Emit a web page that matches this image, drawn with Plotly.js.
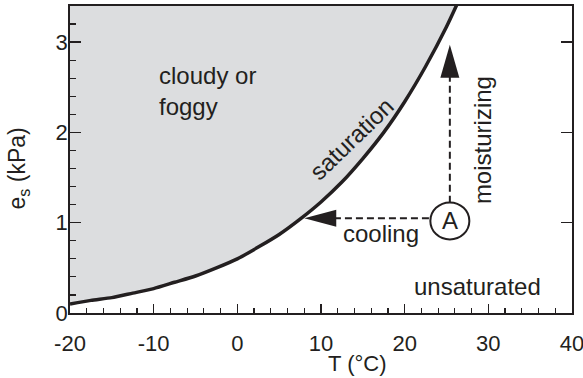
<!DOCTYPE html>
<html>
<head>
<meta charset="utf-8">
<script src="https://cdn.plot.ly/plotly-3.0.1.min.js"></script>
<style>html,body{margin:0;padding:0;background:#fff;}#chart{width:583px;height:378px;}</style>
</head>
<body>
<div id="chart"></div>
<script>
// Saturation curve
const temperature = [-20, -17.5, -15, -12.5, -10, -7.5, -5, -2.5, 0, 2.5, 5, 7.5, 10, 12.5, 15, 17.5, 20, 22.5, 25, 27];
const satPressure = [0.10, 0.14, 0.17, 0.22, 0.27, 0.34, 0.41, 0.50, 0.60, 0.73, 0.87, 1.04, 1.23, 1.45, 1.71, 2.00, 2.34, 2.73, 3.17, 3.57];
const fillTop = 3.7;

// Point A and the two process arrows
const pointA = {T: 25.4, e: 1.02};
const coolingT = [22.9, 11.0];
const coolingE = [1.05, 1.05];
const coolingTip = {T: 8.0, e: 1.05};
const moistT = [25.4, 25.4];
const moistE = [1.22, 2.7];
const moistTip = {T: 25.4, e: 2.97};

// Tick labels
const xTicks = [-20, -10, 0, 10, 20, 30, 40];
const yTicks = [0, 1, 2, 3];

const ink = '#231f20';
const font = {family: 'Liberation Sans, Arial, Helvetica, sans-serif', color: ink};
const f = (s) => Object.assign({size: s}, font);

const fillX = temperature.concat([temperature[temperature.length - 1], temperature[0]]);
const fillY = satPressure.concat([fillTop, fillTop]);

const traces = [
  {x: fillX, y: fillY, mode: 'lines', fill: 'toself', fillcolor: '#dcdddf', line: {width: 0, color: 'rgba(0,0,0,0)'}, hoverinfo: 'skip', showlegend: false},
  {x: temperature, y: satPressure, mode: 'lines', line: {color: ink, width: 3.5, shape: 'spline', smoothing: 0.6}, showlegend: false},
  {x: coolingT, y: coolingE, mode: 'lines', line: {color: ink, width: 2, dash: '7px,4px'}, showlegend: false, yaxis: 'y2'},
  {x: moistT, y: moistE, mode: 'lines', line: {color: ink, width: 2, dash: '7px,4px'}, showlegend: false}
];

const layout = {
  width: 583, height: 378,
  margin: {l: 70, r: 10.5, t: 5.7, b: 64.7},
  paper_bgcolor: '#fff', plot_bgcolor: '#fff',
  font: f(22),
  showlegend: false,
  xaxis: {
    range: [-20, 40], tickvals: xTicks, ticktext: xTicks.map(String),
    ticks: 'inside', ticklen: 9, tickwidth: 1.5, tickcolor: ink,
    minor: {dtick: 2, ticks: 'inside', ticklen: 5, tickwidth: 1.2, tickcolor: ink},
    showline: true, linecolor: ink, linewidth: 1.8, mirror: true,
    showgrid: false, zeroline: false, tickfont: f(22),
    ticklabelstandoff: 10, ticklabeloverflow: 'allow'
  },
  yaxis: {
    range: [0, 3.4], tickvals: yTicks, ticktext: yTicks.map(String),
    ticks: 'inside', ticklen: 11, tickwidth: 1.5, tickcolor: ink,
    minor: {dtick: 0.2, ticks: 'inside', ticklen: 6, tickwidth: 1.2, tickcolor: ink},
    showline: true, linecolor: ink, linewidth: 1.8, mirror: true,
    showgrid: false, zeroline: false, tickfont: f(22),
    ticklabelstandoff: -4, ticklabeloverflow: 'allow'
  },
  yaxis2: {
    range: [0, 3.4], overlaying: 'y', side: 'right', tickvals: [1, 2, 3],
    ticks: 'inside', ticklen: 11, tickwidth: 1.5, tickcolor: ink,
    showticklabels: false, showline: false, showgrid: false, zeroline: false
  },
  shapes: [
    {type: 'path', xref: 'x', yref: 'y', xsizemode: 'pixel', ysizemode: 'pixel',
     xanchor: coolingTip.T, yanchor: coolingTip.e,
     path: 'M0,0 L32,8.5 L32,-8.5 Z', fillcolor: ink, line: {width: 0}},
    {type: 'path', xref: 'x', yref: 'y', xsizemode: 'pixel', ysizemode: 'pixel',
     xanchor: moistTip.T, yanchor: moistTip.e,
     path: 'M0,0 L-9.5,-33 L9.5,-33 Z', fillcolor: ink, line: {width: 0}},
    {type: 'circle', xref: 'x', yref: 'y', xsizemode: 'pixel', ysizemode: 'pixel',
     xanchor: pointA.T, yanchor: pointA.e, x0: -19.5, x1: 19.5, y0: -18.5, y1: 18.5,
     fillcolor: '#fff', line: {color: ink, width: 2}}
  ],
  annotations: [
    {x: -9.6, y: 2.46, xref: 'x', yref: 'y', text: 'cloudy or<br>foggy', showarrow: false, xanchor: 'left', yanchor: 'middle', align: 'left', font: f(24)},
    {x: 13.7, y: 1.93, xref: 'x', yref: 'y', text: 'saturation', showarrow: false, textangle: -44, font: f(24)},
    {x: 29.3, y: 1.92, xref: 'x', yref: 'y', text: 'moisturizing', showarrow: false, textangle: -90, font: f(24)},
    {x: 17.2, y: 0.88, xref: 'x', yref: 'y', text: 'cooling', showarrow: false, font: f(24)},
    {x: 28.7, y: 0.29, xref: 'x', yref: 'y', text: 'unsaturated', showarrow: false, font: f(24)},
    {x: pointA.T, y: pointA.e, xref: 'x', yref: 'y', text: 'A', showarrow: false, font: f(24)},
    {x: 0.573, y: -0.165, xref: 'paper', yref: 'paper', text: 'T (°C)', showarrow: false, yanchor: 'middle', font: f(22)},
    {x: -0.102, y: 0.47, xref: 'paper', yref: 'paper', text: 'e<sub>s</sub> (kPa)', showarrow: false, textangle: -90, xanchor: 'center', font: f(23)}
  ]
};

Plotly.newPlot('chart', traces, layout, {displayModeBar: false, staticPlot: true});
</script>
</body>
</html>
